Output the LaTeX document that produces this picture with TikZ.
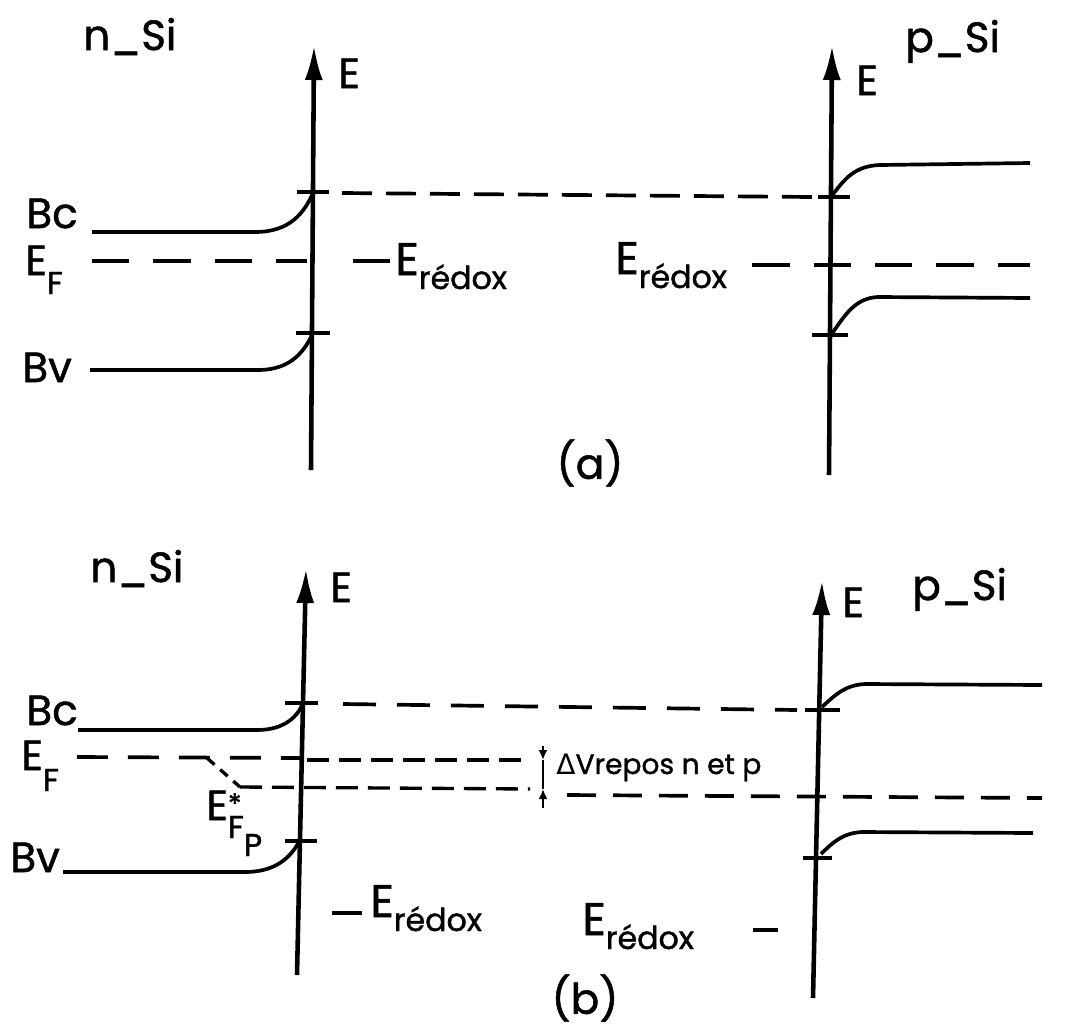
\documentclass[tikz,border=0pt]{standalone}
\usepackage{fontspec}
\setmainfont{Poppins}[FakeBold=1.2]
\newfontfamily\deltafont{DejaVu Sans}
\usetikzlibrary{arrows.meta,positioning}
\newcommand{\lowsub}[2][0.28cm]{\raisebox{-#1}{\fontsize{18}{18}\selectfont #2}}

\begin{document}
\begin{tikzpicture}[
  x=0.02cm, y=-0.02cm,
  axis/.style={line width=2.6pt, -{Latex[length=7mm, width=3.6mm]}},
  band/.style={line width=2.1pt},
  tickmark/.style={line width=1.9pt},
  level/.style={line width=2.1pt, dash pattern=on 0.66cm off 0.42cm},
  longlevel/.style={line width=2.1pt, dash pattern=on 0.75cm off 0.48cm},
  short/.style={line width=1.9pt, dash pattern=on 0.44cm off 0.2cm},
  lbl/.style={font=\fontsize{24}{28}\selectfont, inner sep=0pt},
  big/.style={font=\fontsize{26}{30}\selectfont, inner sep=0pt},
  tiny/.style={font=\fontsize{16}{18}\selectfont, inner sep=0pt},
  gap/.style={-{Latex[length=2mm, width=1.8mm]}, line width=1.4pt}
]
\useasboundingbox (0,0) rectangle (1074,1031);

% ---------- (a) ----------
\coordinate (axA0) at (311,470);
\coordinate (axA1) at (314,45);
\coordinate (axB0) at (829,475);
\coordinate (axB1) at (832,45);
\draw[axis] (axA0) -- (axA1);
\draw[axis] (axB0) -- (axB1);

\node[lbl, anchor=base west] (nsiA) at (83,50) {n\_Si};
\node[lbl, anchor=base west] (eA) at (338,88) {E};
\node[lbl, anchor=base west] (psiA) at (905,52) {p\_Si};
\node[lbl, anchor=base west] (eB) at (856,95) {E};
\node[lbl, anchor=base west] (bcA) at (26,228) {Bc};
\node[lbl, anchor=base west] (efA) at (25,275) {E\lowsub[0.38cm]{F}};
\node[lbl, anchor=base west] (bvA) at (22,382) {Bv};

% bands, n side
\draw[band] (92,232) -- (255,232) .. controls (290,232) and (304,213) .. (313,193);
\draw[band] (90,370) -- (258,370) .. controls (292,370) and (305,350) .. (313,333);
\draw[tickmark] (297,192) -- (329,192);
\draw[tickmark] (296,333) -- (330,333);

% levels
\draw[longlevel] (92,261) -- (307,261);
\draw[band] (353,261) -- (390,261);
\node[big, anchor=base west] (rdxA) at (395,275) {E\lowsub{rédox}};
\draw[level, dash pattern=on 0.6cm off 0.28cm] (342,193) -- (812,197);

% bands, p side
\draw[band] (831,197) .. controls (845,178) and (855,166) .. (880,165) -- (1030,163);
\draw[band] (831,335) .. controls (845,315) and (855,298) .. (878,297) -- (1030,298);
\draw[tickmark] (818,197) -- (850,197);
\draw[tickmark] (812,335) -- (848,335);
\node[big, anchor=base west] (rdxB) at (615,274) {E\lowsub{rédox}};
\draw[longlevel] (752,265) -- (1030,265);

\node[lbl] (capA) at (590,463) {(a)};

% ---------- (b) ----------
\coordinate (axC0) at (297,975);
\coordinate (axC1) at (306,568);
\coordinate (axD0) at (813,998);
\coordinate (axD1) at (822,580);
\draw[axis] (axC0) -- (axC1);
\draw[axis] (axD0) -- (axD1);

\node[lbl, anchor=base west] (nsiB) at (90,582) {n\_Si};
\node[lbl, anchor=base west] (eC) at (330,602) {E};
\node[lbl, anchor=base west] (psiB) at (912,600) {p\_Si};
\node[lbl, anchor=base west] (eD) at (842,617) {E};
\node[lbl, anchor=base west] (bcB) at (26,725) {Bc};
\node[lbl, anchor=base west] (efB) at (21,770) {E\lowsub[0.42cm]{F}};
\node[lbl, anchor=base west] (bvB) at (10,872) {Bv};

% bands, n side
\draw[band] (78,730) -- (257,730) .. controls (285,730) and (298,716) .. (303,703);
\draw[band] (63,872) -- (245,872) .. controls (275,872) and (290,858) .. (299,842);
\draw[tickmark] (285,703) -- (318,703);
\draw[tickmark] (285,841) -- (317,841);

% Fermi levels and rest potential gap
\draw[level] (343,704) -- (797,710);
\draw[level, dash pattern=on 0.62cm off 0.4cm] (77,757) -- (300,758);
\draw[short] (307,760) -- (530,760);
\draw[short, dash pattern=on 0.2cm off 0.15cm] (207,758) -- (240,787);
\draw[short] (240,787) -- (530,789);
\draw[level, dash pattern=on 0.58cm off 0.34cm] (567,795) -- (1042,798);
\coordinate (dvTop) at (543,746);
\coordinate (dvUp) at (543,760);
\coordinate (dvLo) at (543,789);
\coordinate (dvBot) at (543,808);
\draw[gap] (dvTop) -- (dvUp);
\draw[gap] (dvBot) -- (dvLo);
\draw[line width=1.4pt] (dvUp) -- (dvLo);
\node[tiny, anchor=base west] (dv) at (556,774) {{\deltafont Δ}Vrepos n et p};

\node[lbl, anchor=base west] (efp) at (206,820)
  {E\rlap{\raisebox{0.12cm}{\fontsize{16}{16}\selectfont *}}\lowsub[0.36cm]{F\lowsub[0.36cm]{P}}};

% bands, p side
\draw[band] (822,707) .. controls (835,695) and (845,685) .. (865,684) -- (1042,685);
\draw[band] (821,854) .. controls (833,842) and (843,833) .. (862,832) -- (1033,833);
\draw[tickmark] (805,710) -- (840,710);
\draw[tickmark] (803,858) -- (832,858);

% redox levels
\draw[band] (332,913) -- (362,913);
\node[big, anchor=base west] (rdxC) at (370,917) {E\lowsub{rédox}};
\node[big, anchor=base west] (rdxD) at (582,935) {E\lowsub{rédox}};
\draw[band] (753,930) -- (778,930);

\node[lbl] (capB) at (585,998) {(b)};
\end{tikzpicture}
\end{document}
